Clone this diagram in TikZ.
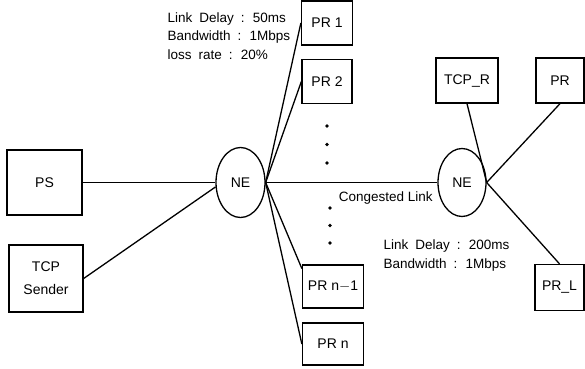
\documentclass[tikz,border=0pt]{standalone}
\usepackage{fontspec}
\setmainfont{Liberation Sans}
\usetikzlibrary{shapes.geometric}
\newcommand\prx{327}
\newcommand\widesp{\spaceskip=7pt\relax}

\begin{document}
\begin{tikzpicture}[x=1pt, y=-1pt, line width=1.3pt, font=\fontsize{14}{16}\selectfont, host/.style = {draw, rectangle, inner sep=0pt, minimum width=50pt, minimum height=44pt}, ne/.style = {draw, ellipse, inner sep=0pt, minimum width=49pt, minimum height=70pt}, note/.style = {align=left, anchor=north west, inner sep=0pt, font=\fontsize{13.5}{18.5}\selectfont\widesp}]
    \useasboundingbox (0,0) rectangle (585,368);

    \node at (240.5,182.5) [ne] (ne1) {NE};
    \node at (462,182.5) [ne, minimum width=48pt, minimum height=68pt] (ne2) {NE};

    \node at (44.5,182.5) [host, minimum width=75pt, minimum height=65pt] (ps) {PS};
    \node at (46,278.5) [host, minimum width=74pt, minimum height=67pt, align=center, font=\fontsize{14}{23}\selectfont] (tcps) {TCP\\Sender};

    \node at (\prx,23) [host, minimum width=51pt] (pr1) {PR 1};
    \node at (\prx,81.5) [host] (pr2) {PR 2};
    \node at (\prx + 6,286.5) [host, minimum width=61pt, minimum height=43pt] (prn1) {PR n$-$1};
    \node at (\prx + 6,344) [host, minimum width=61pt, minimum height=42pt] (prn) {PR n};

    \node at (467,80.5) [host, minimum width=62pt, minimum height=45pt] (tcpr) {TCP\_R};
    \node at (560,80.5) [host, minimum width=48pt, minimum height=45pt] (pr) {PR};
    \node at (559.5,287.5) [host, minimum width=49pt, minimum height=46pt] (prl) {PR\_L};

    %Link parameters
    \node at (167,12) [note] (acc) {Link Delay : 50ms\\Bandwidth : 1Mbps\\loss rate : 20\%};
    \node at (383,239) [note, font=\fontsize{13.5}{19}\selectfont\widesp] (bott) {Link Delay : 200ms\\Bandwidth : 1Mbps};

    %Dots
    \fill (\prx,126) circle (1.8pt);
    \fill (\prx,144.5) circle (1.8pt);
    \fill (\prx,163) circle (1.8pt);
    \fill (\prx + 3,208) circle (1.8pt);
    \fill (\prx + 3,225.5) circle (1.8pt);
    \fill (\prx + 3,243) circle (1.8pt);

    \draw (ps.east) -- (ne1.west);
    \draw (tcps.east) -- (ne1.190);
    \draw (ne1.east) -- (pr1.west);
    \draw (ne1.east) -- (pr2.west);
    \draw (ne1.east) -- (prn1.150);
    \draw (ne1.east) -- (prn.west);
    \draw (ne1.east) -- (ne2.west) node[pos=0.7, below=5pt, font=\fontsize{13.5}{16}\selectfont] {Congested Link};

    \draw (tcpr.south) -- (ne2.east);
    \draw (pr.south) -- (ne2.east);
    \draw (prl.north) -- (ne2.east);

\end{tikzpicture}
\end{document}
